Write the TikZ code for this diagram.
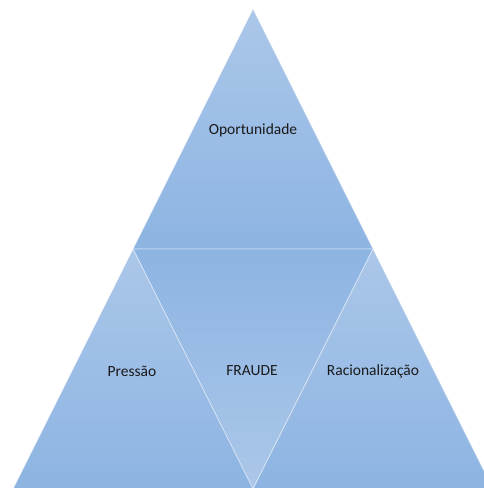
\documentclass[tikz,border=0pt]{standalone}
\usepackage{fontspec}
\setmainfont{Carlito}
\definecolor{tlight}{HTML}{ABC7E9}
\definecolor{tdark}{HTML}{8DB4E2}
\definecolor{ttext}{HTML}{1A1A1A}
\begin{document}
\begin{tikzpicture}[x=1pt,y=1pt,
  piece/.style={draw=white,draw opacity=0.45,line width=0.8pt,line join=round},
  up/.style={piece,top color=tlight,bottom color=tdark},
  down/.style={piece,top color=tdark,bottom color=tlight},
  label/.style={font=\fontsize{15.5}{18}\selectfont,text=ttext,inner sep=0pt}]
\useasboundingbox (0,0) rectangle (484,488);
\clip (0,0) rectangle (484,488);
\coordinate (A) at (253,479);
\coordinate (ML) at (133,239);
\coordinate (MR) at (373,239);
\coordinate (L) at (13,-1);
\coordinate (R) at (493,-1);
\coordinate (BM) at (253,-1);
\shade[up] (A) -- (MR) -- (ML) -- cycle;
\shade[down] (ML) -- (MR) -- (BM) -- cycle;
\shade[up] (ML) -- (BM) -- (L) -- cycle;
\shade[up] (MR) -- (R) -- (BM) -- cycle;
\node[label] (op) at (253,358) {Oportunidade};
\node[label] (pr) at (132,117) {Pressão};
\node[label] (fr) at (252,117) {FRAUDE};
\node[label] (ra) at (373,117) {Racionalização};
\end{tikzpicture}
\end{document}
